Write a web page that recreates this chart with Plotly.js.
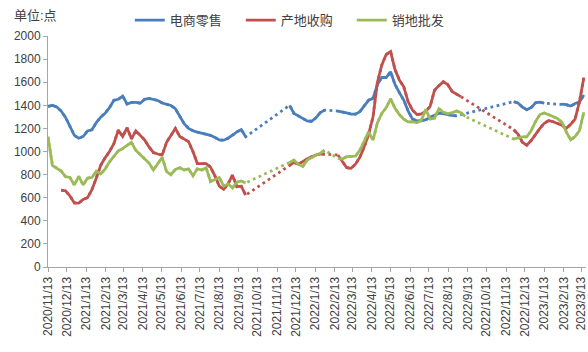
<!DOCTYPE html>
<html>
<head>
<meta charset="utf-8">
<script src="https://cdn.plot.ly/plotly-3.0.1.min.js"></script>
<style>html,body{margin:0;padding:0;background:#fff;}#chart{width:588px;height:352px;}</style>
</head>
<body>
<div id="chart"></div>
<script>
// Weekly observation dates
const dates = [
 '2020-11-13','2020-11-20','2020-11-27','2020-12-04','2020-12-11','2020-12-18','2020-12-25',
 '2021-01-01','2021-01-08','2021-01-15','2021-01-22','2021-01-29','2021-02-05','2021-02-12','2021-02-19','2021-02-26',
 '2021-03-05','2021-03-12','2021-03-19','2021-03-26','2021-04-02','2021-04-09','2021-04-16','2021-04-23','2021-04-30',
 '2021-05-07','2021-05-14','2021-05-21','2021-05-28','2021-06-04','2021-06-11','2021-06-18','2021-06-25',
 '2021-07-02','2021-07-09','2021-07-16','2021-07-23','2021-07-30','2021-08-06','2021-08-13','2021-08-20','2021-08-27',
 '2021-09-03','2021-09-10','2021-09-17','2021-09-24','2021-10-01','2021-10-08','2021-10-15','2021-10-22','2021-10-29',
 '2021-11-05','2021-11-12','2021-11-19','2021-11-26','2021-12-03','2021-12-10','2021-12-17','2021-12-24','2021-12-31',
 '2022-01-07','2022-01-14','2022-01-21','2022-01-28','2022-02-04','2022-02-11','2022-02-18','2022-02-25',
 '2022-03-04','2022-03-11','2022-03-18','2022-03-25','2022-04-01','2022-04-08','2022-04-15','2022-04-22','2022-04-29',
 '2022-05-06','2022-05-13','2022-05-20','2022-05-27','2022-06-03','2022-06-10','2022-06-17','2022-06-24',
 '2022-07-01','2022-07-08','2022-07-15','2022-07-22','2022-07-29','2022-08-05','2022-08-12','2022-08-19','2022-08-26',
 '2022-09-02','2022-09-09','2022-09-16','2022-09-23','2022-09-30','2022-10-07','2022-10-14','2022-10-21','2022-10-28',
 '2022-11-04','2022-11-11','2022-11-18','2022-11-25','2022-12-02','2022-12-09','2022-12-16','2022-12-23','2022-12-30',
 '2023-01-06','2023-01-13','2023-01-20','2023-01-27','2023-02-03','2023-02-10','2023-02-17','2023-02-24',
 '2023-03-03','2023-03-10','2023-03-17'
];

// 电商零售
const retail = [
 1390,1400,1385,1350,1295,1210,1140,1115,1130,1178,1188,1250,1297,1330,1380,1443,1452,1480,1410,1425,
 1425,1418,1452,1460,1450,1442,1420,1410,1398,1370,1303,1240,1200,1180,1168,1158,1150,1140,1122,1100,
 1098,1115,1142,1170,1190,1127,
 null,null,null,null,null,null,null,null,null,
 1400,1330,1308,1290,1265,1262,1292,1337,1358,
 null,null,
 1350,1345,1334,1324,1324,1345,1392,1445,1460,1580,1642,1640,1690,1580,1510,1445,1350,1280,1266,1266,
 1275,1295,1313,1333,1328,1318,1313,1309,
 null,null,null,null,null,null,null,null,null,null,null,null,
 1432,1420,1385,1362,1380,1422,1428,1418,
 null,null,null,
 1410,1405,1393,1415,1428,1490
];

// 产地收购
const origin = [
 null,null,null,
 665,660,615,555,553,585,600,670,770,880,945,1000,1068,1185,1130,1205,1110,1180,1140,1100,1040,990,
 978,970,1080,1140,1200,1130,1110,1085,1000,896,896,896,865,790,700,672,720,795,695,700,622,
 null,null,null,null,null,null,null,null,null,
 880,905,890,915,935,955,970,977,977,
 null,null,
 970,910,860,855,890,950,1040,1150,1300,1600,1750,1840,1865,1710,1619,1560,1430,1358,1320,1325,
 1347,1390,1530,1570,1605,1580,1520,1497,1475,
 null,null,null,null,null,null,null,null,null,null,null,
 1190,1150,1080,1055,1095,1150,1200,1245,1268,1258,1243,1228,1200,1235,1280,1430,1640
];

// 销地批发
const wholesale = [
 1127,880,855,830,782,775,710,785,710,770,775,830,805,848,910,962,1005,1025,1050,1080,
 1010,975,935,900,840,900,950,825,800,845,860,840,850,790,850,840,860,740,758,775,
 700,720,685,735,745,728,
 null,null,null,null,null,null,null,null,null,
 905,925,890,870,925,948,968,985,1012,
 null,null,
 940,935,955,960,960,1010,1098,1170,1098,1250,1330,1380,1455,1375,1320,1280,1257,1257,1250,1270,
 1365,1280,1290,1370,1340,1328,1335,1350,1335,1303,
 null,null,null,null,null,null,null,null,null,null,
 1108,1115,1127,1127,1180,1260,1320,1333,1320,1303,1285,1255,1170,1100,1130,1180,1340
];

const seriesNames = ['电商零售','产地收购','销地批发'];
const seriesColors = ['#4A7EBB','#C0504D','#9BBB59'];
const seriesData = [retail, origin, wholesale];

const tickDates = [
 '2020-11-13','2020-12-13','2021-01-13','2021-02-13','2021-03-13','2021-04-13','2021-05-13','2021-06-13',
 '2021-07-13','2021-08-13','2021-09-13','2021-10-13','2021-11-13','2021-12-13','2022-01-13','2022-02-13',
 '2022-03-13','2022-04-13','2022-05-13','2022-06-13','2022-07-13','2022-08-13','2022-09-13','2022-10-13',
 '2022-11-13','2022-12-13','2023-01-13','2023-02-13','2023-03-13'
];

const FONT = 'Liberation Sans, Arial, "Noto Sans CJK SC", sans-serif';
const traces = [];
// dotted connectors across missing weeks (hidden under solid parts)
seriesData.forEach((ys, i) => {
  traces.push({
    x: dates, y: ys, type: 'scatter', mode: 'lines', connectgaps: true,
    line: {color: seriesColors[i], width: 2.75, dash: '2.75px,3.5px'},
    showlegend: false, hoverinfo: 'skip'
  });
});
seriesData.forEach((ys, i) => {
  traces.push({
    x: dates, y: ys, type: 'scatter', mode: 'lines', connectgaps: false,
    name: seriesNames[i],
    line: {color: seriesColors[i], width: 2.75}
  });
});

const layout = {
  width: 588, height: 352,
  margin: {l: 48, r: 2, t: 36, b: 85},
  paper_bgcolor: '#ffffff', plot_bgcolor: '#ffffff',
  font: {family: FONT, size: 12, color: '#404040'},
  showlegend: true,
  legend: {
    orientation: 'h', x: 0.152, xanchor: 'left', y: 1.069, yanchor: 'middle',
    font: {family: FONT, size: 13, color: '#404040'},
    bgcolor: 'rgba(0,0,0,0)', entrywidth: 66, entrywidthmode: 'pixels',
    traceorder: 'normal'
  },
  xaxis: {
    type: 'date',
    range: ['2020-11-13', '2023-03-20 10:00'],
    tickmode: 'array', tickvals: tickDates, tickformat: '%Y/%-m/%-d',
    tickangle: -90, ticks: 'outside', ticklen: 4, tickcolor: '#A6A6A6',
    ticklabeloverflow: 'allow',
    showline: true, linecolor: '#A6A6A6', linewidth: 1,
    showgrid: false, zeroline: false,
    tickfont: {family: FONT, size: 12, color: '#404040'}
  },
  yaxis: {
    range: [0, 2000], dtick: 200, tick0: 0,
    ticks: 'outside', ticklen: 4, tickcolor: '#A6A6A6',
    showline: true, linecolor: '#A6A6A6', linewidth: 1,
    showgrid: false, zeroline: false,
    tickfont: {family: FONT, size: 12, color: '#404040'}
  },
  annotations: [{
    text: '单位:点', xref: 'paper', yref: 'paper',
    x: -0.067, xanchor: 'left', y: 1.087, yanchor: 'middle',
    showarrow: false, font: {family: FONT, size: 13, color: '#404040'}
  }]
};

Plotly.newPlot('chart', traces, layout, {displayModeBar: false, staticPlot: true});
</script>
</body>
</html>
